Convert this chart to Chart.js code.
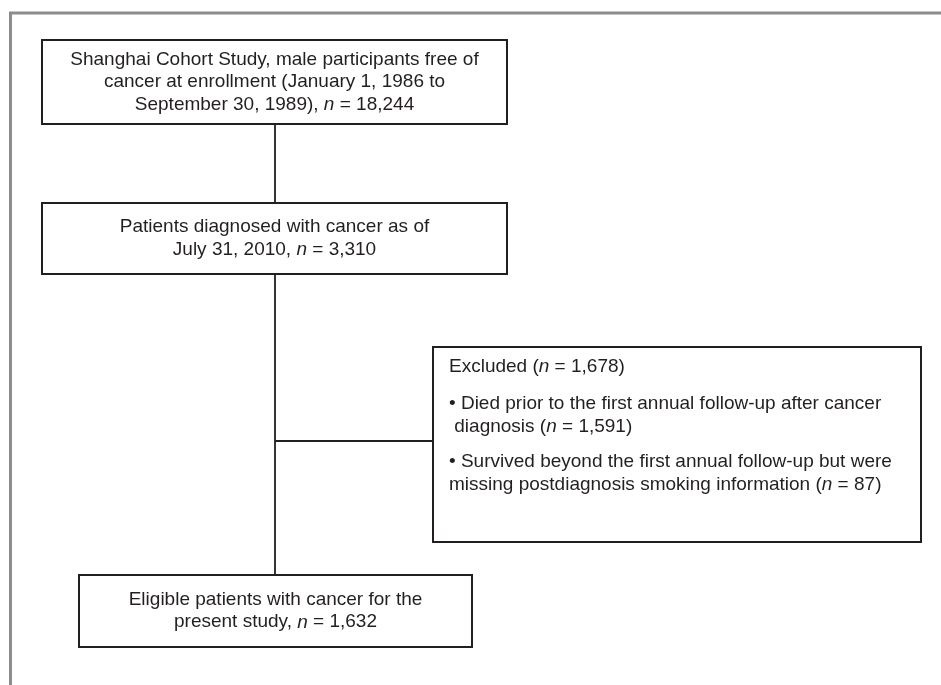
<!DOCTYPE html>
<html>
<head>
<meta charset="utf-8">
<script src="https://cdn.jsdelivr.net/npm/chart.js@4.4.0/dist/chart.umd.min.js"></script>
<style>
  html, body { margin: 0; padding: 0; background: #fff; }
  #wrap { width: 941px; height: 685px; }
</style>
</head>
<body>
<div id="wrap"><canvas id="flow"></canvas></div>
<script>
// Flowchart content (text pieces wrapped in *...* are set in italics)
const cohortLines = [
    'Shanghai Cohort Study, male participants free of',
    'cancer at enrollment (January 1, 1986 to',
    'September 30, 1989), *n* = 18,244'
];
const diagnosedLines = [
    'Patients diagnosed with cancer as of',
    'July 31, 2010, *n* = 3,310'
];
const excludedHeader = ['Excluded (*n* = 1,678)'];
const excludedBullets = [
    ['\u2022 Died prior to the first annual follow-up after cancer', ' diagnosis (*n* = 1,591)'],
    ['\u2022 Survived beyond the first annual follow-up but were', 'missing postdiagnosis smoking information (*n* = 87)']
];
const eligibleLines = [
    'Eligible patients with cancer for the',
    'present study, *n* = 1,632'
];

// Geometry of the diagram, in axis units (axes span the canvas 1:1)
const layout = {
    frame: { x: 10.5, y: 13 },
    spineX: 275,
    branchY: 441,
    cohort: { x0: 42, y0: 40, x1: 507, y1: 124 },
    diagnosed: { x0: 42, y0: 203, x1: 507, y1: 274 },
    excluded: { x0: 433, y0: 347, x1: 921, y1: 542 },
    eligible: { x0: 79, y0: 575, x1: 472, y1: 647 }
};

const FONT_SIZE = 19;
const LINE_H = 22.5;
const TEXT_COLOR = '#231f20';

function parts(str) {
    // split "abc *n* def" into [{t, it}]
    return str.split('*').map((t, i) => ({ t: t, it: i % 2 === 1 })).filter(p => p.t.length);
}

function setFont(ctx, italic) {
    ctx.font = (italic ? 'italic ' : '') + FONT_SIZE + 'px "Liberation Sans", Arial, sans-serif';
}

function lineWidth(ctx, str) {
    let w = 0;
    parts(str).forEach(p => { setFont(ctx, p.it); w += ctx.measureText(p.t).width; });
    return w;
}

function drawLine(ctx, str, x, y, align) {
    let cx = align === 'center' ? x - lineWidth(ctx, str) / 2 : x;
    parts(str).forEach(p => {
        setFont(ctx, p.it);
        ctx.fillText(p.t, cx, y);
        cx += ctx.measureText(p.t).width;
    });
}

const flowPlugin = {
    id: 'flow',
    afterDraw(chart) {
        const ctx = chart.ctx;
        const sx = v => chart.scales.x.getPixelForValue(v);
        const sy = v => chart.scales.y.getPixelForValue(v);

        ctx.save();
        // outer frame (top and left edges only)
        ctx.strokeStyle = '#8c8c8c';
        ctx.lineWidth = 3;
        ctx.beginPath();
        ctx.moveTo(sx(941), sy(layout.frame.y));
        ctx.lineTo(sx(layout.frame.x), sy(layout.frame.y));
        ctx.lineTo(sx(layout.frame.x), sy(685));
        ctx.stroke();

        // connectors
        ctx.strokeStyle = '#231f20';
        ctx.lineWidth = 1.8;
        ctx.beginPath();
        ctx.moveTo(sx(layout.spineX), sy(layout.cohort.y1));
        ctx.lineTo(sx(layout.spineX), sy(layout.eligible.y0));
        ctx.moveTo(sx(layout.spineX), sy(layout.branchY));
        ctx.lineTo(sx(layout.excluded.x0), sy(layout.branchY));
        ctx.stroke();

        // boxes
        ctx.lineWidth = 2;
        ['cohort', 'diagnosed', 'excluded', 'eligible'].forEach(k => {
            const b = layout[k];
            ctx.fillStyle = '#fff';
            ctx.fillRect(sx(b.x0), sy(b.y0), sx(b.x1) - sx(b.x0), sy(b.y1) - sy(b.y0));
            ctx.strokeRect(sx(b.x0), sy(b.y0), sx(b.x1) - sx(b.x0), sy(b.y1) - sy(b.y0));
        });

        ctx.fillStyle = TEXT_COLOR;
        ctx.textBaseline = 'middle';
        ctx.textAlign = 'left';

        const centered = (lines, b) => {
            const cx = (b.x0 + b.x1) / 2;
            const cy = (b.y0 + b.y1) / 2;
            lines.forEach((l, i) => {
                const y = cy + (i - (lines.length - 1) / 2) * LINE_H;
                drawLine(ctx, l, sx(cx), sy(y), 'center');
            });
        };
        centered(cohortLines, layout.cohort);
        centered(diagnosedLines, layout.diagnosed);
        centered(eligibleLines, layout.eligible);

        // excluded box: left aligned header + bullet groups
        const ex = layout.excluded;
        let y = ex.y0 + 20;
        drawLine(ctx, excludedHeader[0], sx(ex.x0 + 16), sy(y), 'left');
        y += 37;
        excludedBullets.forEach(group => {
            group.forEach(l => {
                drawLine(ctx, l, sx(ex.x0 + 16), sy(y), 'left');
                y += LINE_H;
            });
            y += 13;
        });
        ctx.restore();
    }
};

new Chart(document.getElementById('flow'), {
    type: 'scatter',
    data: { datasets: [{ data: [], pointRadius: 0 }] },
    options: {
        responsive: true,
        maintainAspectRatio: false,
        animation: false,
        layout: { padding: 0 },
        plugins: { legend: { display: false }, tooltip: { enabled: false } },
        scales: {
            x: { type: 'linear', min: 0, max: 941, display: false },
            y: { type: 'linear', min: 0, max: 685, reverse: true, display: false }
        }
    },
    plugins: [flowPlugin]
});
</script>
</body>
</html>
